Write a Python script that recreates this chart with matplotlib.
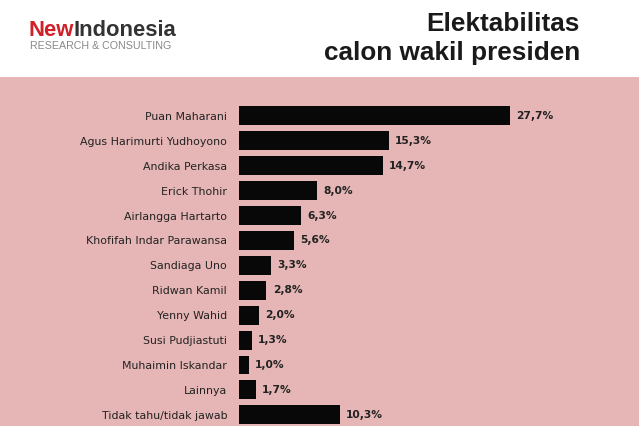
import matplotlib
matplotlib.use("Agg")
import matplotlib.pyplot as plt
from matplotlib.patches import Rectangle

names = ["Puan Maharani", "Agus Harimurti Yudhoyono", "Andika Perkasa", "Erick Thohir",
         "Airlangga Hartarto", "Khofifah Indar Parawansa", "Sandiaga Uno", "Ridwan Kamil",
         "Yenny Wahid", "Susi Pudjiastuti", "Muhaimin Iskandar", "Lainnya",
         "Tidak tahu/tidak jawab"]
values = [27.7, 15.3, 14.7, 8.0, 6.3, 5.6, 3.3, 2.8, 2.0, 1.3, 1.0, 1.7, 10.3]
value_labels = ["27,7%", "15,3%", "14,7%", "8,0%", "6,3%", "5,6%", "3,3%", "2,8%",
                "2,0%", "1,3%", "1,0%", "1,7%", "10,3%"]

W, H = 639, 426
fig = plt.figure(figsize=(W / 100, H / 100), dpi=100)
fig.patch.set_facecolor("white")
pink = "#e6b6b6"
fig.patches.append(Rectangle((0, 0), 1, (H - 77) / H, transform=fig.transFigure,
                             facecolor=pink, edgecolor="none", zorder=-1))

# logo + title
t_new = fig.text(28 / W, 1 - 31 / H, "New", color="#d0202a", fontsize=15.8, fontweight="bold",
                 family="Liberation Sans", va="center", ha="left")
fig.canvas.draw()
bb = t_new.get_window_extent()
fig.text(bb.x1 / W, 1 - 31 / H, "Indonesia", color="#333333", fontsize=15.8, fontweight="bold",
         family="Liberation Sans", va="center", ha="left")
fig.text(30 / W, 1 - 46 / H, "RESEARCH & CONSULTING", color="#888888", fontsize=7.7,
         family="Liberation Sans", va="center", ha="left")
fig.text(580 / W, 1 - 24 / H, "Elektabilitas", fontsize=18.8, fontweight="bold",
         family="Liberation Sans", color="#1a1a1a", ha="right", va="center")
fig.text(580 / W, 1 - 53 / H, "calon wakil presiden", fontsize=18.8, fontweight="bold",
         family="Liberation Sans", color="#1a1a1a", ha="right", va="center")

left, right = 239, 630
ax = fig.add_axes([left / W, 0, (right - left) / W, (H - 104) / H])
ax.set_facecolor("none")
y = list(range(len(names)))
ax.barh(y, values, height=0.76, color="#080808")
ax.set_xlim(0, (right - left) / 9.78)
ax.set_ylim(12.45, -0.48)
for i, (v, lab) in enumerate(zip(values, value_labels)):
    ax.text(v + 0.65, i, lab, va="center", ha="left", fontsize=7.7, fontweight="bold",
            color="#222222")
ax.set_yticks(y)
ax.set_yticklabels(names, fontsize=7.9, color="#222222")
ax.tick_params(axis="y", length=0, pad=8.5)
ax.set_xticks([])
for s in ax.spines.values():
    s.set_visible(False)

fig.savefig("out.png", dpi=100, facecolor=fig.get_facecolor())
